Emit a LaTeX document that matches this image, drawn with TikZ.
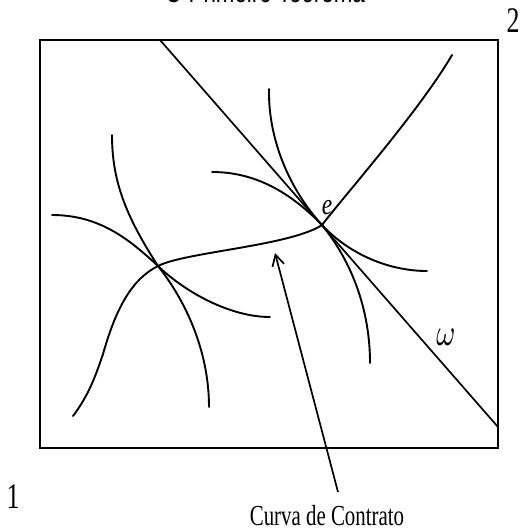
\documentclass[tikz,border=0pt]{standalone}
\usepackage{fontspec}
\setmainfont{Liberation Serif}
\newfontfamily\titlefont{Liberation Sans}
\usetikzlibrary{arrows.meta}
\begin{document}
\begin{tikzpicture}[x=1pt,y=-1pt,
  frame/.style={line width=2.3pt},
  curve/.style={line width=1.9pt, line cap=round},
  thinline/.style={line width=1.7pt},
  lbl/.style={inner sep=0pt, outer sep=0pt},
  ptr/.style={line width=1.7pt, -{Straight Barb[length=11pt,width=12pt]}}]
\useasboundingbox (0,0) rectangle (523,532);
% title (cut off at top)
\node[lbl, anchor=base] (title) at (265,3) {\titlefont\fontsize{31}{31}\selectfont\scalebox{0.72}[1]{O Primeiro Teorema}};
% frame
\draw[frame] (40,40) rectangle (498,448);
% key points
\coordinate (A) at (158,266);
\coordinate (E) at (322,225);
\coordinate (W1) at (160,40);
\coordinate (W2) at (498,427);
\coordinate (ctail) at (338,492);
\coordinate (chead) at (275,253);
% omega line
\draw[thinline] (W1) -- (W2);
% contract curve
\draw[curve] (73,416) .. controls (88,396) and (95,378) .. (103,354)
  .. controls (115,312) and (130,280) .. (A)
  .. controls (185,252) and (290,246) .. (E)
  .. controls (345,195) and (420,110) .. (452,55);
% indifference curves through A
\draw[curve] (52,215) .. controls (100,215) and (130,240) .. (A)
  .. controls (185,292) and (230,317) .. (270,317);
\draw[curve] (112,135) .. controls (112,180) and (125,215) .. (A)
  .. controls (185,300) and (209,350) .. (209,407);
% indifference curves through E
\draw[curve] (212,172) .. controls (255,172) and (290,192) .. (E)
  .. controls (350,255) and (390,271) .. (427,271);
\draw[curve] (269,89) .. controls (268,140) and (290,190) .. (E)
  .. controls (352,262) and (370,310) .. (370,363);
% pointer
\draw[ptr] (ctail) -- (chead);
% labels
\node[lbl] (elbl) at (327,208) {\fontsize{30}{30}\selectfont\scalebox{0.78}[1]{\itshape e}};
\node[lbl] (wlbl) at (446,337) {\scalebox{2.9}[3.8]{$\omega$}};
\node[lbl] (two) at (513,21) {\fontsize{36}{36}\selectfont\scalebox{0.72}[1]{2}};
\node[lbl] (one) at (13,497) {\fontsize{36}{36}\selectfont\scalebox{0.72}[1]{1}};
\node[lbl] (cc) at (327,516) {\fontsize{29}{29}\selectfont\scalebox{0.72}[1]{Curva de Contrato}};
\end{tikzpicture}
\end{document}
